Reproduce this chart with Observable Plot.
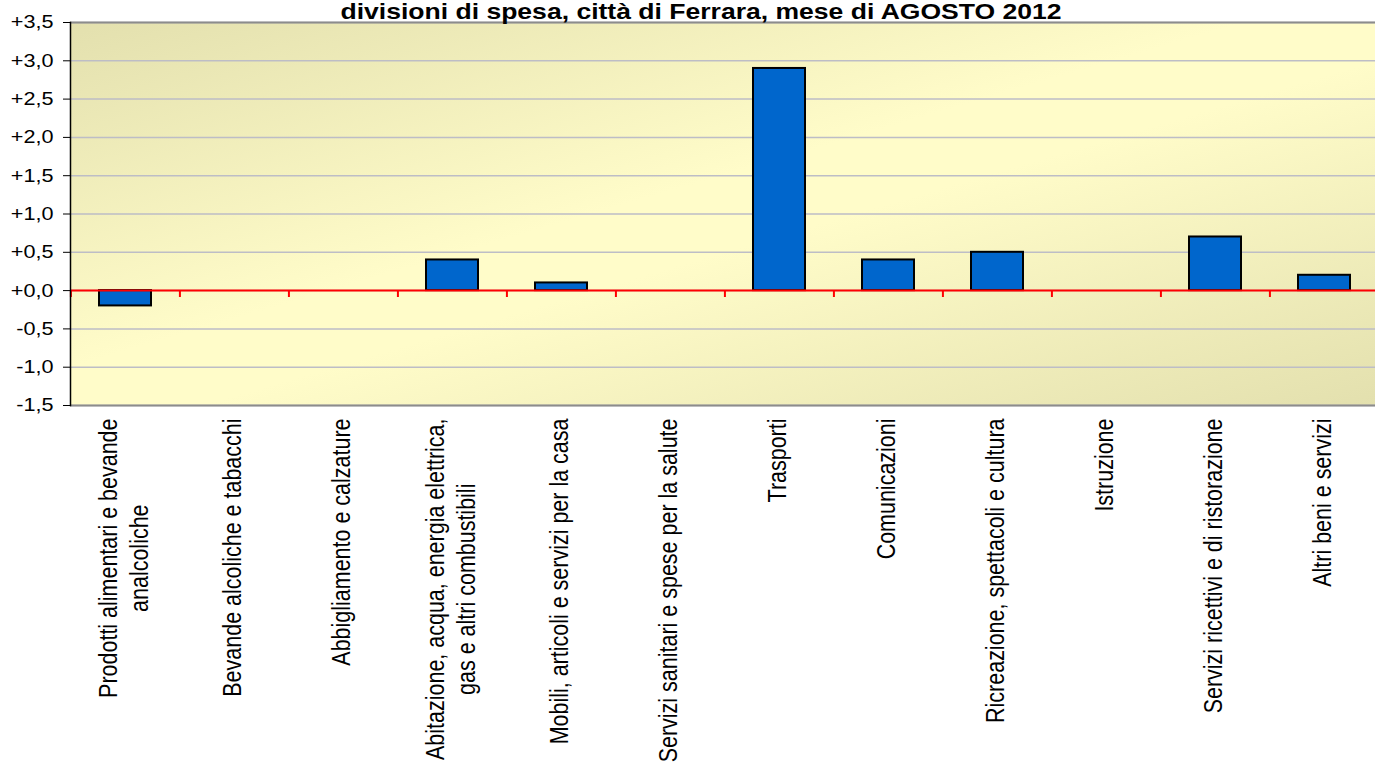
<!DOCTYPE html>
<html>
<head>
<meta charset="utf-8">
<script src="https://cdn.jsdelivr.net/npm/d3@7"></script>
<script src="https://cdn.jsdelivr.net/npm/@observablehq/plot@0.6"></script>
<style>
  html, body { margin: 0; padding: 0; background: #ffffff; }
  #chart svg { display: block; }
</style>
</head>
<body>
<div id="chart"></div>
<script>
const title = "divisioni di spesa, città di Ferrara, mese di AGOSTO 2012";

const categories = [
  "Prodotti alimentari e bevande\nanalcoliche",
  "Bevande alcoliche e tabacchi",
  "Abbigliamento e calzature",
  "Abitazione, acqua, energia elettrica,\ngas e altri combustibili",
  "Mobili, articoli e servizi per la casa",
  "Servizi sanitari e spese per la salute",
  "Trasporti",
  "Comunicazioni",
  "Ricreazione, spettacoli e cultura",
  "Istruzione",
  "Servizi ricettivi e di ristorazione",
  "Altri beni e servizi"
];

const values = [-0.2, 0, 0, 0.4, 0.1, 0, 2.9, 0.4, 0.5, 0, 0.7, 0.2];

const yTicks = [-1.5, -1.0, -0.5, 0.0, 0.5, 1.0, 1.5, 2.0, 2.5, 3.0, 3.5];

const data = categories.map((c, i) => ({category: c, value: values[i]}));
const fmt = d => (d < 0 ? "-" : "+") + Math.abs(d).toFixed(1).replace(".", ",");

const W = 1375, H = 769;
const xRange = [70, 1380];
const step = (xRange[1] - xRange[0]) / categories.length;
const stretch = 1.17; // the reference's text is slightly wider than tall

const chart = Plot.plot({
  width: W,
  height: H,
  marginTop: 22,
  marginBottom: 364,
  marginLeft: 70,
  marginRight: 0,
  style: {fontFamily: "'Liberation Sans', Arial, sans-serif", background: "#ffffff", overflow: "visible"},
  x: {domain: categories, range: xRange, paddingInner: 0.52, paddingOuter: 0.26},
  y: {domain: [-1.5, 3.5]},
  marks: [
    Plot.frame({fill: "#fffcc9", stroke: null}),
    Plot.ruleY(yTicks, {stroke: "#bdbdc6", strokeWidth: 1.5}),
    Plot.ruleY([3.5, -1.5], {stroke: "#8c8c8c", strokeWidth: 2.2}),
    Plot.barY(data.filter(d => d.value !== 0), {x: "category", y: "value", fill: "#0066cc", stroke: "#000000", strokeWidth: 2}),
    Plot.ruleY([0], {stroke: "#ff0000", strokeWidth: 2}),
    Plot.ruleX(categories, {x: d => d, dx: -step / 2, y1: 0, y2: -0.09, stroke: "#ff0000", strokeWidth: 2}),
    Plot.frame({anchor: "left", stroke: "#000000", strokeWidth: 1.5}),
    Plot.axisY({ticks: yTicks, tickFormat: fmt, tickSize: 7, tickPadding: 10, fontSize: 18.5, stroke: "#000000", fill: "#000000", label: null}),
    Plot.axisX({tickSize: 0, tickPadding: 13, tickRotate: -90, dx: -3, fontSize: 21.5, lineHeight: 1.22, fill: "#000000", label: null}),
    Plot.text([title], {frameAnchor: "top", dy: -4, dx: -22, lineAnchor: "bottom", fontWeight: "bold", fontSize: 22.5, fill: "#000000"})
  ]
});

document.getElementById("chart").appendChild(chart);

const svg = d3.select(chart);

// diagonal background gradient (tan corners, light yellow centre)
const defs = svg.insert("defs", ":first-child");
const grad = defs.append("linearGradient").attr("id", "bgGrad")
  .attr("x1", 0).attr("y1", 0).attr("x2", 1).attr("y2", 1);
grad.append("stop").attr("offset", "0%").attr("stop-color", "#e3e0ae");
grad.append("stop").attr("offset", "45%").attr("stop-color", "#fffcc9");
grad.append("stop").attr("offset", "55%").attr("stop-color", "#fffcc9");
grad.append("stop").attr("offset", "100%").attr("stop-color", "#e3e0ae");
const bgFrame = chart.querySelector('[aria-label="frame"]');
const bgRect = bgFrame.tagName.toLowerCase() === "rect" ? bgFrame : bgFrame.querySelector("rect");
if (bgRect) { bgRect.setAttribute("fill", "url(#bgGrad)"); bgRect.style.fill = "url(#bgGrad)"; }

// the reference's glyphs are horizontally stretched: widen the texts on screen
svg.selectAll('g[aria-label="y-axis tick label"] text').each(function () {
  const t = this.getAttribute("transform") || "";
  this.setAttribute("transform", t + ` scale(${stretch},1)`);
});
svg.selectAll('g[aria-label="x-axis tick label"] text').each(function () {
  const t = this.getAttribute("transform") || "";
  this.setAttribute("transform", t + ` scale(1,${stretch})`);
  // centre the lines of a multi-line label relative to its longest line
  const tspans = this.querySelectorAll("tspan");
  if (tspans.length < 2) return;
  const lens = Array.from(tspans, s => s.getComputedTextLength());
  const maxLen = Math.max(...lens);
  tspans.forEach((s, i) => s.setAttribute("x", -(maxLen - lens[i]) / 2));
});
svg.selectAll('g[aria-label="text"] text').each(function () {
  const t = this.getAttribute("transform") || "";
  this.setAttribute("transform", t + ` scale(1.18,1)`);
});
</script>
</body>
</html>
